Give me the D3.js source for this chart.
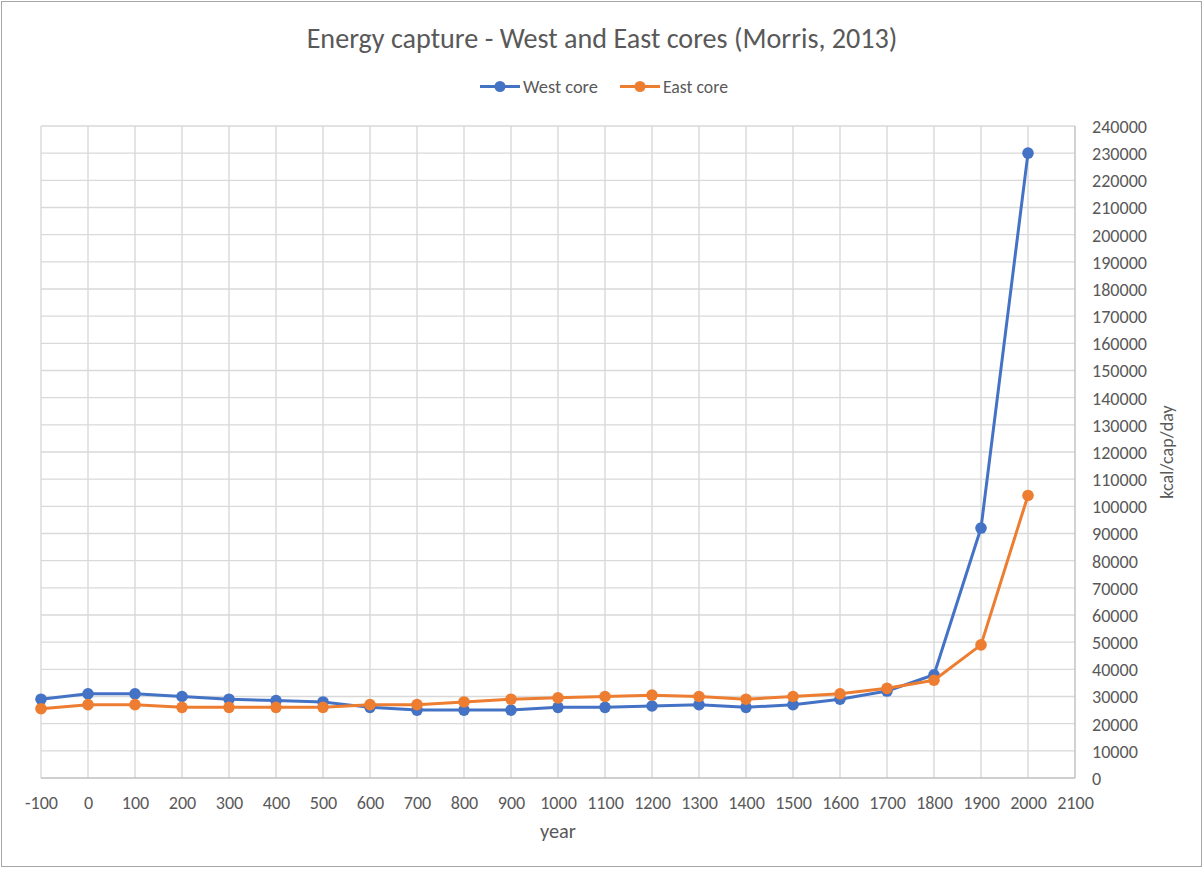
<!DOCTYPE html>
<html>
<head>
<meta charset="utf-8">
<script src="https://cdn.jsdelivr.net/npm/d3@7"></script>
<style>
  html, body { margin: 0; padding: 0; background: #fff; }
  svg { display: block; }
  text { font-family: Carlito, Lato, "Open Sans", sans-serif; fill: #595959; }
</style>
</head>
<body>
<svg id="chart" width="1204" height="869"></svg>
<script>
// ---- data ----
const years = [-100, 0, 100, 200, 300, 400, 500, 600, 700, 800, 900, 1000, 1100, 1200, 1300, 1400, 1500, 1600, 1700, 1800, 1900, 2000];
const westCore = [29000, 31000, 31000, 30000, 29000, 28500, 28000, 26000, 25000, 25000, 25000, 26000, 26000, 26500, 27000, 26000, 27000, 29000, 32000, 38000, 92000, 230000];
const eastCore = [25500, 27000, 27000, 26000, 26000, 26000, 26000, 27000, 27000, 28000, 29000, 29500, 30000, 30500, 30000, 29000, 30000, 31000, 33000, 36000, 49000, 104000];
const xTicks = d3.range(-100, 2101, 100);
const yTicks = d3.range(0, 240001, 10000);
const seriesNames = ["West core", "East core"];
const seriesColors = ["#4472C4", "#ED7D31"];
const titleText = "Energy capture - West and East cores (Morris, 2013)";
const xTitle = "year";
const yTitle = "kcal/cap/day";

// ---- layout ----
const svg = d3.select("#chart");
const plot = { left: 41, right: 1075, top: 126, bottom: 778 };
const x = d3.scaleLinear().domain([-100, 2100]).range([plot.left, plot.right]);
const y = d3.scaleLinear().domain([0, 240000]).range([plot.bottom, plot.top]);

function fitText(sel, targetWidth, startSize) {
  sel.attr("font-size", startSize);
  const w = sel.node().getComputedTextLength();
  const s = startSize * targetWidth / w;
  sel.attr("font-size", s);
  return s;
}

// chart border
svg.append("rect").attr("x", 1.5).attr("y", 1.5).attr("width", 1200).attr("height", 865)
  .attr("fill", "#fff").attr("stroke", "#a6a6a6").attr("stroke-width", 1);

// gridlines
const grid = svg.append("g");
grid.selectAll("line.v").data(xTicks.filter(d => d < 2100)).join("line")
  .attr("x1", d => x(d)).attr("x2", d => x(d))
  .attr("y1", plot.top).attr("y2", plot.bottom)
  .attr("stroke", "#d9d9d9").attr("stroke-width", 1.4);
grid.selectAll("line.h").data(yTicks.filter(d => d > 0)).join("line")
  .attr("x1", plot.left).attr("x2", plot.right)
  .attr("y1", d => y(d)).attr("y2", d => y(d))
  .attr("stroke", "#d9d9d9").attr("stroke-width", 1.4);

// axes lines
svg.append("line").attr("x1", plot.left).attr("x2", plot.right).attr("y1", plot.bottom).attr("y2", plot.bottom)
  .attr("stroke", "#bfbfbf").attr("stroke-width", 1.4);
svg.append("line").attr("x1", plot.right).attr("x2", plot.right).attr("y1", plot.top).attr("y2", plot.bottom)
  .attr("stroke", "#bfbfbf").attr("stroke-width", 1.4);

// tick label size fitted so "240000" is ~55px wide
const probe = svg.append("text").text("240000");
const tickSize = fitText(probe, 55, 16);
probe.remove();

// x tick labels
const xAxis = d3.axisBottom(x).tickValues(xTicks).tickSize(0).tickPadding(0).tickFormat(d => String(d));
const gx = svg.append("g").attr("transform", `translate(0,${plot.bottom})`).call(xAxis);
gx.select(".domain").remove();
gx.selectAll("text").attr("font-size", tickSize).attr("fill", "#595959")
  .attr("dy", null).attr("y", 31).style("font-family", "Carlito, Lato, sans-serif");

// y tick labels (right side)
const yAxis = d3.axisRight(y).tickValues(yTicks).tickSize(0).tickPadding(0).tickFormat(d => String(d));
const gy = svg.append("g").attr("transform", `translate(${plot.right},0)`).call(yAxis);
gy.select(".domain").remove();
gy.selectAll("text").attr("font-size", tickSize).attr("fill", "#595959")
  .attr("x", 17).attr("dy", "0.35em").style("font-family", "Carlito, Lato, sans-serif");

// lines + markers
const line = d3.line().x((d, i) => x(years[i])).y(d => y(d));
[westCore, eastCore].forEach((vals, k) => {
  svg.append("path").datum(vals).attr("d", line)
    .attr("fill", "none").attr("stroke", seriesColors[k]).attr("stroke-width", 3).attr("stroke-linejoin", "round");
  svg.append("g").selectAll("circle").data(vals).join("circle")
    .attr("cx", (d, i) => x(years[i])).attr("cy", d => y(d)).attr("r", 5.8)
    .attr("fill", seriesColors[k]);
});

// title
const t = svg.append("text").attr("x", 602).attr("y", 47.5).attr("text-anchor", "middle").text(titleText);
fitText(t, 591, 24);

// legend
const legendX = [480, 620];
const legendTextW = [75, 65];
seriesNames.forEach((name, k) => {
  const g = svg.append("g");
  g.append("line").attr("x1", legendX[k]).attr("x2", legendX[k] + 40).attr("y1", 86.5).attr("y2", 86.5)
    .attr("stroke", seriesColors[k]).attr("stroke-width", 3);
  g.append("circle").attr("cx", legendX[k] + 20).attr("cy", 86.5).attr("r", 5.5).attr("fill", seriesColors[k]);
  const lt = g.append("text").attr("x", legendX[k] + 43).attr("y", 92.5).text(name);
  fitText(lt, legendTextW[k], 16);
});

// axis titles
const xt = svg.append("text").attr("x", 558).attr("y", 838).attr("text-anchor", "middle").text(xTitle);
fitText(xt, 36, 16);
const yt = svg.append("text").attr("transform", "translate(1173,452) rotate(-90)")
  .attr("text-anchor", "middle").attr("font-size", tickSize).text(yTitle);
</script>
</body>
</html>
